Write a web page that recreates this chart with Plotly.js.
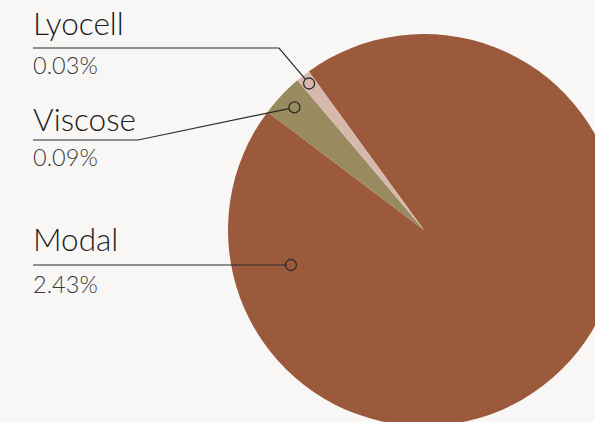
<!DOCTYPE html>
<html>
<head>
<meta charset="utf-8">
<script src="https://cdn.plot.ly/plotly-3.0.1.min.js"></script>
<style>
html,body{margin:0;padding:0;background:#f8f7f5;overflow:hidden;width:595px;height:422px;}
#chart{position:absolute;left:0;top:0;}
</style>
</head>
<body>
<div id="chart"></div>
<script>
// Data
const labels = ["Modal", "Viscose", "Lyocell"];
const values = [2.43, 0.09, 0.03];
const percentText = ["2.43%", "0.09%", "0.03%"];
const colors = ["#9c5a3c", "#998a60", "#d6b9ab"];

// Layout geometry (pixels in a 700x500 canvas, clipped to window)
const W = 700, H = 500;
const cx = 424, cy = 230, R = 196;
const rotation = 324;
const labelLineY = [265, 140, 48];
const labelElbowX = [287, 138, 279];
const nameBaseline = [253, 133, 37];
const pctTop = [279, 152, 60];
const anchorFrac = [0.70, 0.91, 0.95];
const textX = 31;
const nameSize = 31.5, pctSize = 23.5;

const px = x => x / W;
const py = y => 1 - y / H;

// slice mid angles (clockwise from 12 o'clock, degrees)
const total = values.reduce((a, b) => a + b, 0);
let acc = rotation;
const mids = values.map(v => {
  const span = v / total * 360;
  const m = acc + span / 2;
  acc += span;
  return m;
});

const anchors = values.map((v, i) => {
  if (i === 0) {
    const yy = labelLineY[i];
    const dy = yy - cy;
    const xEdge = cx - Math.sqrt(R * R - dy * dy);
    return [xEdge + 0.31 * (cx - xEdge), yy];
  }
  const a = mids[i] * Math.PI / 180;
  const r = R * anchorFrac[i];
  return [cx + r * Math.sin(a), cy - r * Math.cos(a)];
});

const shapes = [];
const annotations = [];
const cr = 5.5;
const fontFam = "Lato, 'Open Sans', sans-serif";
labels.forEach((lab, i) => {
  const [ax, ay] = anchors[i];
  const ly = labelLineY[i];
  const ex = labelElbowX[i];
  const dx = ax - ex, dy = ay - ly;
  const d = Math.sqrt(dx * dx + dy * dy) || 1;
  const endX = ax - dx / d * cr, endY = ay - dy / d * cr;
  shapes.push({
    type: "path", xref: "paper", yref: "paper", layer: "above",
    path: `M ${px(33)} ${py(ly)} L ${px(ex)} ${py(ly)} L ${px(endX)} ${py(endY)}`,
    line: {color: "#2b2b2b", width: 1.2}
  });
  shapes.push({
    type: "circle", xref: "paper", yref: "paper", layer: "above",
    x0: px(ax - cr), x1: px(ax + cr), y0: py(ay + cr), y1: py(ay - cr),
    line: {color: "#2b2b2b", width: 1.3}, fillcolor: "rgba(0,0,0,0)"
  });
  annotations.push({
    text: lab, xref: "paper", yref: "paper", x: px(textX), y: py(nameBaseline[i] + 0.22 * nameSize),
    xanchor: "left", yanchor: "bottom", showarrow: false,
    font: {family: fontFam, size: nameSize, color: "#1c1c1c", weight: 300}
  });
  annotations.push({
    text: percentText[i], xref: "paper", yref: "paper", x: px(textX), y: py(pctTop[i] - 0.45 * pctSize),
    xanchor: "left", yanchor: "top", showarrow: false,
    font: {family: fontFam, size: pctSize, color: "#3a3a3a", weight: 300}
  });
});

const trace = {
  type: "pie",
  labels: labels,
  values: values,
  sort: false,
  direction: "clockwise",
  rotation: rotation,
  textinfo: "none",
  hoverinfo: "label+percent",
  marker: {colors: colors, line: {width: 0}},
  domain: {x: [px(cx - R), px(cx + R)], y: [py(cy + R), py(cy - R)]},
  showlegend: false
};

const layout = {
  width: W, height: H,
  margin: {l: 0, r: 0, t: 0, b: 0},
  paper_bgcolor: "#f8f7f5",
  plot_bgcolor: "#f8f7f5",
  showlegend: false,
  shapes: shapes,
  annotations: annotations
};

Plotly.newPlot("chart", [trace], layout, {displayModeBar: false, staticPlot: true});
</script>
</body>
</html>
